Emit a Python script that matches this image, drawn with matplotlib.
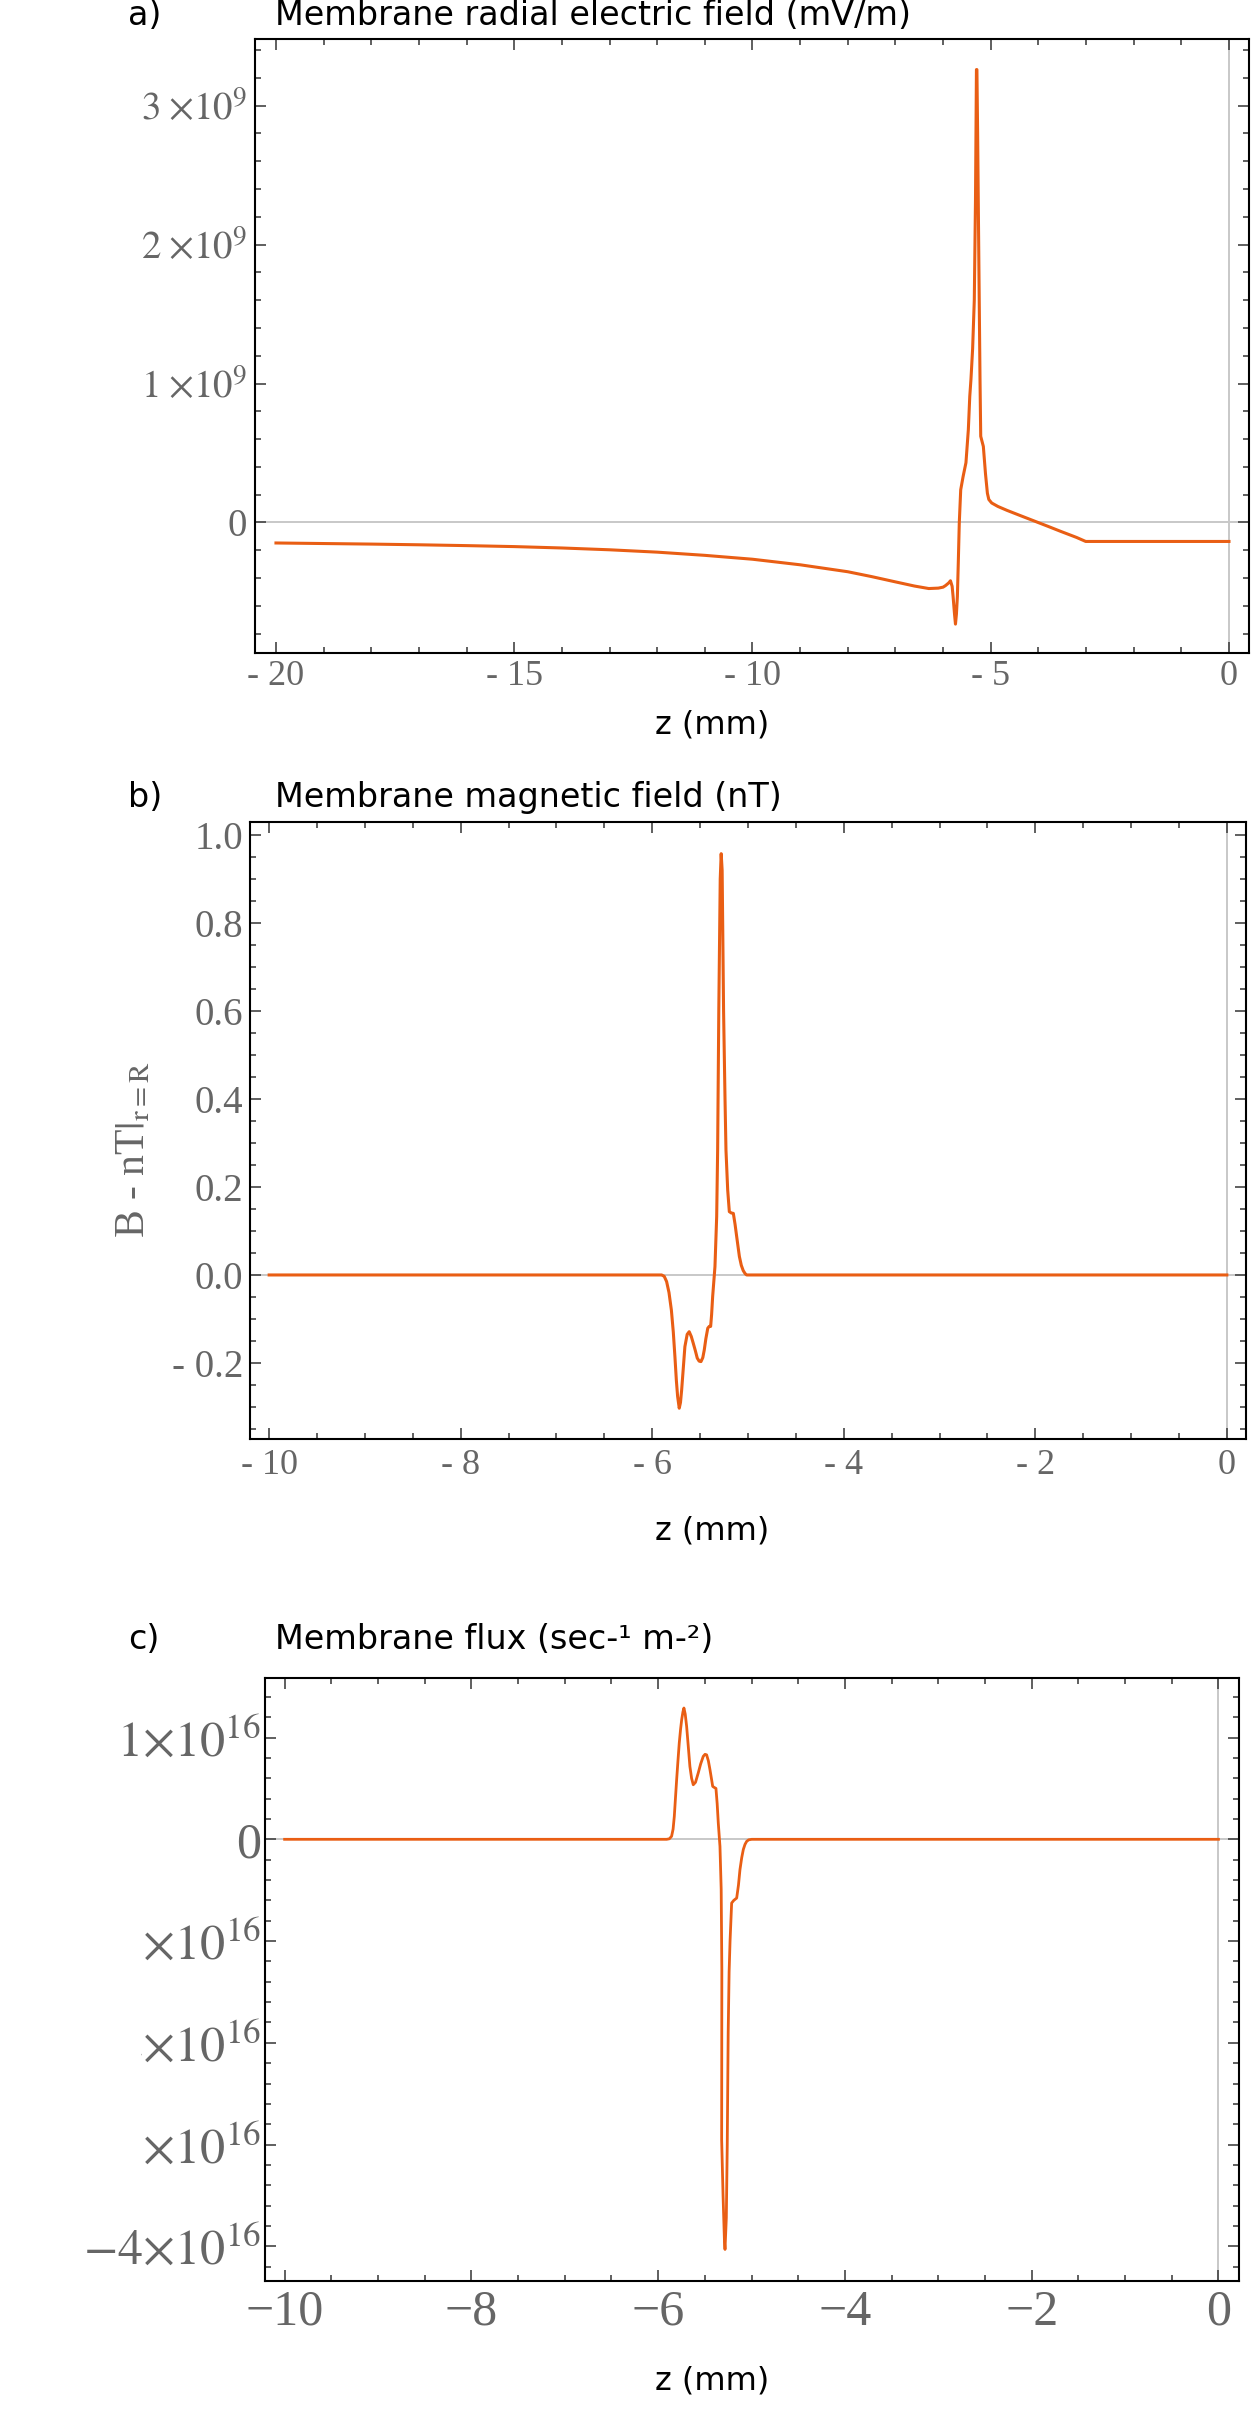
import numpy as np
import matplotlib
matplotlib.use("Agg")
import matplotlib.pyplot as plt
from matplotlib.ticker import FixedLocator, FixedFormatter, MultipleLocator
from matplotlib.patches import Rectangle

plt.rcParams['font.family'] = ['Liberation Serif', 'DejaVu Serif']
plt.rcParams['mathtext.fontset'] = 'stix'

# a) membrane radial electric field, values in 1e9 mV/m
za = [-20, -19, -18, -17, -16, -15, -14, -13, -12, -11, -10, -9, -8, -7.5,
      -7, -6.6, -6.3, -6.1, -6.0, -5.95, -5.88, -5.845, -5.81, -5.79, -5.76, -5.74,
      -5.72, -5.70, -5.68, -5.66, -5.63, -5.58, -5.52, -5.47, -5.44, -5.415, -5.38, -5.345,
      -5.32, -5.30, -5.29, -5.275, -5.25, -5.225, -5.21, -5.18, -5.155, -5.11, -5.07, -5.04,
      -4.98, -4.85, -4.66, -4.4, -4.1, -3.8, -3.535, -3.2, -3.007, -2.9, -2, -1, 0]
ea = [-0.148, -0.152, -0.156, -0.161, -0.167, -0.174, -0.184, -0.197, -0.214, -0.237, -0.265, -0.305, -0.355, -0.39,
      -0.428, -0.458, -0.476, -0.473, -0.466, -0.455, -0.435, -0.42, -0.46, -0.533, -0.66, -0.732,
      -0.66, -0.533, -0.28, -0.004, 0.235, 0.33, 0.43, 0.667, 0.907, 1.03, 1.25, 1.60,
      2.32, 3.26, 3.26, 2.8, 1.9, 1.03, 0.62, 0.58, 0.547, 0.35, 0.21, 0.165,
      0.14, 0.115, 0.087, 0.052, 0.012, -0.028, -0.064, -0.108, -0.137, -0.137, -0.137, -0.137, -0.137]

# b) membrane magnetic field (nT)
zb = [-10, -6.2, -5.95, -5.902, -5.875, -5.85, -5.825, -5.80, -5.78, -5.763, -5.748, -5.735,
      -5.718, -5.705, -5.693, -5.675, -5.659, -5.635, -5.614, -5.592, -5.572, -5.55, -5.53, -5.51,
      -5.491, -5.472, -5.457, -5.44, -5.42, -5.405, -5.39, -5.38, -5.369, -5.357, -5.345, -5.327,
      -5.317, -5.305, -5.29, -5.28, -5.27, -5.255, -5.24, -5.23, -5.212, -5.195, -5.175, -5.153,
      -5.135, -5.118, -5.09, -5.07, -5.05, -5.03, -5.014, -4.9, 0]
bb = [0, 0, 0, 0, -0.003, -0.015, -0.04, -0.08, -0.13, -0.186, -0.24, -0.276,
      -0.303, -0.29, -0.262, -0.21, -0.163, -0.135, -0.129, -0.14, -0.155, -0.172, -0.189, -0.196,
      -0.197, -0.188, -0.171, -0.145, -0.121, -0.117, -0.117, -0.09, -0.049, -0.015, 0.019, 0.133,
      0.284, 0.6, 0.9, 0.958, 0.92, 0.6, 0.4, 0.284, 0.193, 0.144, 0.141, 0.14,
      0.115, 0.087, 0.042, 0.022, 0.01, 0.003, 0.0, 0, 0]

# c) membrane flux, values in 1e16 sec^-1 m^-2
zc = [-10, -6.2, -5.95, -5.909, -5.88, -5.856, -5.84, -5.827, -5.815, -5.802, -5.788, -5.774,
      -5.76, -5.748, -5.735, -5.724, -5.71, -5.695, -5.678, -5.66, -5.642, -5.624, -5.6, -5.571,
      -5.545, -5.517, -5.498, -5.481, -5.462, -5.445, -5.43, -5.416, -5.40, -5.381, -5.368, -5.356,
      -5.338, -5.325, -5.318, -5.32, -5.305, -5.29, -5.284, -5.27, -5.26, -5.25, -5.24, -5.23,
      -5.213, -5.19, -5.159, -5.14, -5.124, -5.105, -5.088, -5.07, -5.052, -5.03, -4.998, -4.9, 0]
fc = [0, 0, 0, 0, 0.005, 0.03, 0.1, 0.225, 0.4, 0.585, 0.77, 0.946,
      1.08, 1.175, 1.25, 1.29, 1.23, 1.11, 0.92, 0.716, 0.6, 0.536, 0.56, 0.651,
      0.74, 0.815, 0.835, 0.83, 0.77, 0.684, 0.6, 0.52, 0.51, 0.50, 0.35, 0.16,
      -0.07, -0.49, -1.28, -2.95, -3.5, -3.95, -4.03, -3.72, -3.0, -1.9, -1.3, -1.0,
      -0.626, -0.6, -0.577, -0.45, -0.299, -0.18, -0.1, -0.05, -0.02, -0.005, 0, 0, 0]

# tick values and labels
a_xticks = [-20, -15, -10, -5, 0]
a_xlabels = ['- 20', '- 15', '- 10', '- 5', '0']
a_yticks = [0, 1e9, 2e9, 3e9]
a_ylabels = ['0', r'$1\;{\times}10^{9}$', r'$2\;{\times}10^{9}$', r'$3\;{\times}10^{9}$']

b_xticks = [-10, -8, -6, -4, -2, 0]
b_xlabels = ['- 10', '- 8', '- 6', '- 4', '- 2', '0']
b_yticks = [-0.2, 0.0, 0.2, 0.4, 0.6, 0.8, 1.0]
b_ylabels = ['- 0.2', '0.0', '0.2', '0.4', '0.6', '0.8', '1.0']

c_xticks = [-10, -8, -6, -4, -2, 0]
c_xlabels = ['\u221210', '\u22128', '\u22126', '\u22124', '\u22122', '0']
c_yticks = [-4e16, -3e16, -2e16, -1e16, 0, 1e16]
c_ylabels = [r'$-4{\times}10^{16}$', r'$-3{\times}10^{16}$', r'$-2{\times}10^{16}$',
             r'$-1{\times}10^{16}$', '0', r'$1{\times}10^{16}$']

LINE = '#E95E14'
LABEL = '#666666'
SANS = ['DejaVu Sans']

W, H = 1251, 2421
fig = plt.figure(figsize=(W / 100, H / 100), dpi=100)


def px_axes(l, t, r, b):
    return fig.add_axes([l / W, 1 - b / H, (r - l) / W, (b - t) / H])


def style(ax, xt, xl, yt, yl, xminor, yminor, xsize, ysize, xpad, ypad):
    ax.xaxis.set_major_locator(FixedLocator(xt))
    ax.xaxis.set_major_formatter(FixedFormatter(xl))
    ax.yaxis.set_major_locator(FixedLocator(yt))
    ax.yaxis.set_major_formatter(FixedFormatter(yl))
    ax.xaxis.set_minor_locator(MultipleLocator(xminor))
    ax.yaxis.set_minor_locator(MultipleLocator(yminor))
    ax.tick_params(which='both', direction='in', top=True, right=True,
                   color='#444444', width=1.2)
    ax.tick_params(which='major', length=8)
    ax.tick_params(which='minor', length=4)
    ax.tick_params(axis='x', labelsize=xsize, labelcolor=LABEL, pad=xpad)
    ax.tick_params(axis='y', labelsize=ysize, labelcolor=LABEL, pad=ypad)
    for t in (ax.xaxis.get_major_ticks() + ax.xaxis.get_minor_ticks()
              + ax.yaxis.get_major_ticks() + ax.yaxis.get_minor_ticks()):
        t.tick2line.set_color('#c4c4c4')
    for s in ax.spines.values():
        s.set_linewidth(1.5)
        s.set_color('black')
    ax.axhline(0, color='#c8c8c8', lw=1.4, zorder=1)
    ax.axvline(0, color='#c8c8c8', lw=1.4, zorder=1)


# panel a
ax1 = px_axes(255, 39, 1249, 653)
ax1.plot(za, np.array(ea) * 1e9, color=LINE, lw=2.2, zorder=3)
ax1.set_xlim(-20.44, 0.42)
ax1.set_ylim(-0.94e9, 3.48e9)
style(ax1, a_xticks, a_xlabels, a_yticks, a_ylabels, 1, 0.2e9, 26, 28, 5, 6)
ax1.set_xlabel('z (mm)', family=SANS, fontsize=23, color='black')
ax1.xaxis.set_label_coords((712 - 255) / 994, -(733 - 653) / 614)
ax1.xaxis.label.set_va('baseline')

# panel b
ax2 = px_axes(250, 822, 1246, 1439)
ax2.plot(zb, bb, color=LINE, lw=2.2, zorder=3)
ax2.set_xlim(-10.2, 0.2)
ax2.set_ylim(-0.373, 1.03)
style(ax2, b_xticks, b_xlabels, b_yticks, b_ylabels, 0.5, 0.05, 26, 28, 7, 5)
ax2.set_xlabel('z (mm)', family=SANS, fontsize=23, color='black')
ax2.xaxis.set_label_coords((712 - 250) / 996, -(1540 - 1439) / 617)
ax2.xaxis.label.set_va('baseline')
ax2.set_ylabel(r'B - nT$|_{\mathrm{r=R}}$', fontsize=30, color=LABEL,
               ha='center', va='center')
ax2.yaxis.set_label_coords((134 - 250) / 996, (1439 - 1150) / 617)

# panel c
ax3 = px_axes(265, 1678, 1239, 2281)
ax3.plot(zc, np.array(fc) * 1e16, color=LINE, lw=2.0, zorder=3)
ax3.set_xlim(-10.21, 0.22)
ax3.set_ylim(-4.34e16, 1.585e16)
style(ax3, c_xticks, c_xlabels, c_yticks, c_ylabels, 0.5, 0.2e16, 36, 36, 6, 3)
ax3.set_xlabel('z (mm)', family=SANS, fontsize=23, color='black')
ax3.xaxis.set_label_coords((712 - 265) / 974, -(2390 - 2281) / 603)
ax3.xaxis.label.set_va('baseline')

# panel letters and titles
heads = [('a)', 'Membrane radial electric field (mV/m)', 25),
         ('b)', 'Membrane magnetic field (nT)', 807),
         ('c)', 'Membrane flux (sec-\u00b9 m-\u00b2)', 1649)]
for letter, title, base in heads:
    fig.text(128 / W, 1 - base / H, letter, family=SANS, fontsize=24, va='baseline')
    fig.text(275 / W, 1 - base / H, title, family=SANS, fontsize=24, va='baseline')

# the left part of the lower flux labels is blanked out in the original
fig.add_artist(Rectangle((0, 1 - 2195 / H), 140 / W, 310 / H,
                         transform=fig.transFigure, color='white', zorder=10))

fig.savefig('out.png', dpi=100)
